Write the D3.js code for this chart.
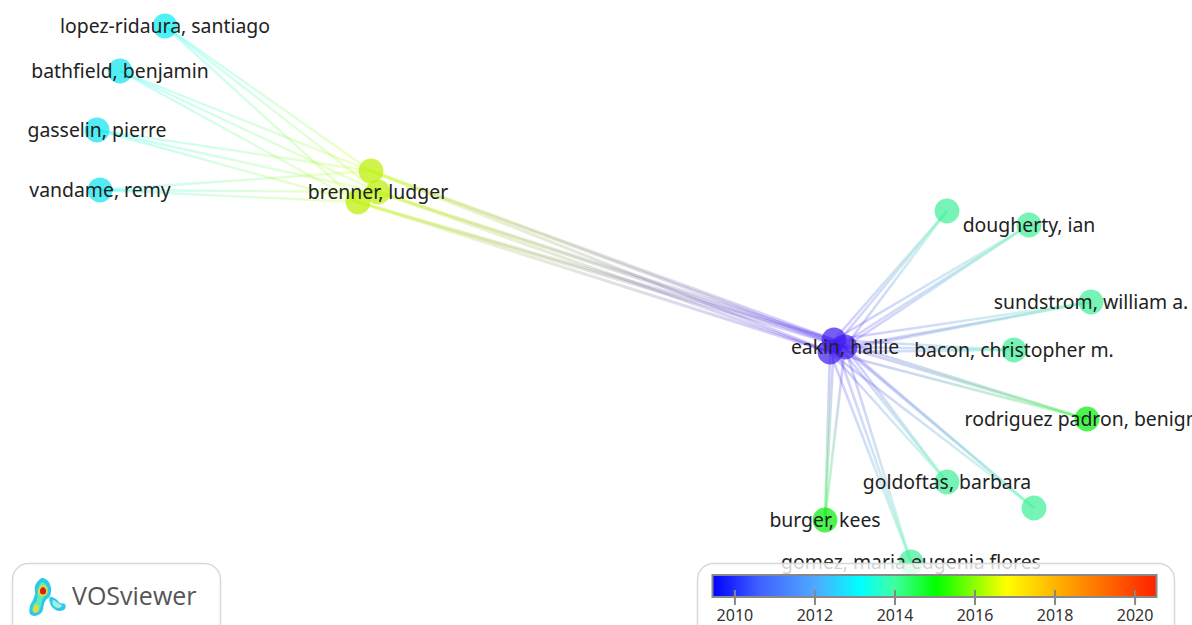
<!DOCTYPE html>
<html>
<head>
<meta charset="utf-8">
<script src="https://cdn.jsdelivr.net/npm/d3@7"></script>
<style>
html, body { margin: 0; padding: 0; background: #fff; overflow: hidden; }
text { font-family: "Noto Sans", sans-serif; }
</style>
</head>
<body>
<script>
// map items (map units, average publication year)
var authors = ['lopez-ridaura, santiago', 'bathfield, benjamin', 'gasselin, pierre', 'vandame, remy',
  '', 'brenner, ludger', '',
  '', 'eakin, hallie', '',
  '', 'dougherty, ian', 'sundstrom, william a.', 'bacon, christopher m.',
  'rodriguez padron, benigno', 'goldoftas, barbara', '', 'burger, kees', 'gomez, maria eugenia flores'];
var years = [2013.1, 2013.0, 2013.0, 2013.0,
  2016.4, 2016.4, 2016.4,
  2009.2, 2009.2, 2009.2,
  2014.0, 2014.0, 2014.0, 2014.0,
  2015.0, 2014.0, 2014.0, 2015.0, 2014.0];
var mapX = [1.65, 1.20, 0.97, 1.00,
  3.71, 3.78, 3.58,
  8.34, 8.45, 8.30,
  9.47, 10.29, 10.91, 10.14,
  10.87, 9.47, 10.34, 8.25, 9.11];
var mapY = [0.26, 0.71, 1.30, 1.90,
  1.71, 1.92, 2.02,
  3.40, 3.47, 3.52,
  2.11, 2.25, 3.02, 3.50,
  4.19, 4.82, 5.08, 5.20, 5.62];

var leftIdx = [0, 1, 2, 3];
var brennerIdx = [4, 5, 6];
var eakinIdx = [7, 8, 9];
var rightIdx = [10, 11, 12, 13, 14, 15, 16, 17, 18];

// colour bar, the first stop lies just before the bar and tints the oldest items
var colorYears = [2009.0, 2009.44, 2010.6, 2012, 2013.14, 2014, 2015.04, 2016.8, 2018.1, 2020.56];
var colorValues = ['#7a30ff', '#0000ff', '#4060ff', '#50a8ff', '#00ffff', '#40ffa0', '#00ff00', '#ffff00', '#ffb000', '#ff2000'];
var tickYears = [2010, 2012, 2014, 2016, 2018, 2020];

var width = 1192, height = 625;

var x = d3.scaleLinear().domain([0, 11.92]).range([0, width]);
var y = d3.scaleLinear().domain([0, 6.25]).range([0, height]);
var color = d3.scaleLinear().domain(colorYears).range(colorValues).interpolate(d3.interpolateRgb);
var legendX = d3.scaleLinear().domain([2009.44, 2020.56]).range([712, 1157]);

function nodeColor(year) {
  return d3.color(color(year)).darker(0.18).formatRgb();
}

var nodes = authors.map(function(name, i) {
  return { name: name, year: years[i], x: x(mapX[i]), y: y(mapY[i]) };
});

var links = [];
function connect(from, to, w) {
  from.forEach(function(a) {
    to.forEach(function(b) {
      links.push({ source: nodes[a], target: nodes[b], w: w });
    });
  });
}
connect(leftIdx, brennerIdx, 2.4);
connect(brennerIdx, eakinIdx, 3);
connect(eakinIdx, rightIdx, 2.6);

var svg = d3.select(document.body).append('svg')
    .attr('width', width)
    .attr('height', height)
    .style('display', 'block');
var defs = svg.append('defs');

defs.append('filter')
    .attr('id', 'soft')
    .attr('filterUnits', 'userSpaceOnUse')
    .attr('x', 0).attr('y', 0)
    .attr('width', width).attr('height', height)
    .append('feGaussianBlur')
    .attr('stdDeviation', 0.4);

defs.selectAll('linearGradient.edge')
    .data(links)
    .enter()
    .append('linearGradient')
    .attr('class', 'edge')
    .attr('id', function(d, i) { return 'edge' + i; })
    .attr('gradientUnits', 'userSpaceOnUse')
    .attr('x1', function(d) { return d.source.x; })
    .attr('y1', function(d) { return d.source.y; })
    .attr('x2', function(d) { return d.target.x; })
    .attr('y2', function(d) { return d.target.y; })
    .each(function(d) {
      var g = d3.select(this);
      g.append('stop').attr('offset', '0%').attr('stop-color', color(d.source.year));
      g.append('stop').attr('offset', '100%').attr('stop-color', color(d.target.year));
    });

svg.append('g')
    .attr('filter', 'url(#soft)')
    .selectAll('line')
    .data(links)
    .enter()
    .append('line')
    .attr('x1', function(d) { return d.source.x; })
    .attr('y1', function(d) { return d.source.y; })
    .attr('x2', function(d) { return d.target.x; })
    .attr('y2', function(d) { return d.target.y; })
    .attr('stroke', function(d, i) { return 'url(#edge' + i + ')'; })
    .attr('stroke-width', function(d) { return d.w; })
    .attr('stroke-opacity', 0.24);

svg.append('g').selectAll('circle')
    .data(nodes)
    .enter()
    .append('circle')
    .attr('cx', function(d) { return d.x; })
    .attr('cy', function(d) { return d.y; })
    .attr('r', 12.4)
    .attr('fill', function(d) { return nodeColor(d.year); })
    .attr('fill-opacity', 0.7);

svg.append('g').selectAll('text')
    .data(nodes.filter(function(d) { return d.name; }))
    .enter()
    .append('text')
    .attr('x', function(d) { return d.x; })
    .attr('y', function(d) { return d.y; })
    .attr('dy', '0.38em')
    .attr('text-anchor', 'middle')
    .attr('font-size', 19.4)
    .attr('fill', '#222')
    .text(function(d) { return d.name; });

// VOSviewer badge
var badge = svg.append('g');
badge.append('rect')
    .attr('x', 12.5).attr('y', 563.5)
    .attr('width', 208).attr('height', 80)
    .attr('rx', 16)
    .attr('fill', '#fff').attr('fill-opacity', 0.85)
    .attr('stroke', '#d8d8d8').attr('stroke-width', 1.5);

// small density-map logo, outlines from outside to inside
var logoShapes = [
  { fill: '#2fc8ec', pts: [[42, 578], [48, 581], [51, 588], [50, 596], [46, 600], [44, 604], [42, 612], [35, 616], [30, 614], [30, 606], [33, 600], [35, 594], [35, 586]] },
  { fill: '#2fc8ec', pts: [[50, 597], [56, 599], [60, 603], [65, 604], [65, 609], [59, 611], [53, 608], [50, 603]] },
  { fill: '#58f0b0', pts: [[42, 582], [47, 586], [48, 593], [43, 598], [41, 605], [38, 612], [33, 612], [33, 606], [37, 600], [38, 590]] },
  { fill: '#a0f0e0', pts: [[53, 600], [58, 603], [62, 606], [58, 608], [53, 605]] },
  { fill: '#f0d830', pts: [[43, 585], [47, 589], [46, 595], [41, 596], [38, 591]] },
  { fill: '#e8d840', pts: [[36, 604], [39, 608], [36, 613], [33, 611]] },
  { fill: '#d82010', pts: [[43, 587], [46, 590], [45, 594], [41, 594], [40, 590]] }
];
var logoLine = d3.line().curve(d3.curveCatmullRomClosed);
badge.selectAll('path.logo')
    .data(logoShapes)
    .enter()
    .append('path')
    .attr('class', 'logo')
    .attr('d', function(d) { return logoLine(d.pts); })
    .attr('fill', function(d) { return d.fill; });

badge.append('text')
    .attr('x', 72).attr('y', 605)
    .style('font-family', '"Open Sans", sans-serif')
    .attr('font-size', 25)
    .attr('fill', '#555')
    .text('VOSviewer');

// colour legend
var legend = svg.append('g');
legend.append('rect')
    .attr('x', 697.5).attr('y', 563.5)
    .attr('width', 477).attr('height', 80)
    .attr('rx', 16)
    .attr('fill', '#fff').attr('fill-opacity', 0.8)
    .attr('stroke', '#d8d8d8').attr('stroke-width', 1.5);

var barGrad = defs.append('linearGradient').attr('id', 'bar');
barGrad.selectAll('stop')
    .data(colorYears.slice(1))
    .enter()
    .append('stop')
    .attr('offset', function(d) { return (legendX(d) - 712) / 445 * 100 + '%'; })
    .attr('stop-color', function(d) { return color(d); });

legend.append('rect')
    .attr('x', 712.5).attr('y', 575)
    .attr('width', 444).attr('height', 22)
    .attr('fill', 'url(#bar)')
    .attr('stroke', '#888').attr('stroke-width', 2);

var axis = legend.append('g')
    .attr('transform', 'translate(0,590)')
    .call(d3.axisBottom(legendX).tickValues(tickYears).tickSize(15).tickFormat(d3.format('d')));
axis.select('.domain').remove();
axis.selectAll('line').attr('stroke', '#888').attr('stroke-width', 2);
axis.selectAll('text')
    .attr('font-size', 16)
    .attr('fill', '#333')
    .attr('y', 20)
    .style('font-family', '"Noto Sans", sans-serif');
</script>
</body>
</html>
